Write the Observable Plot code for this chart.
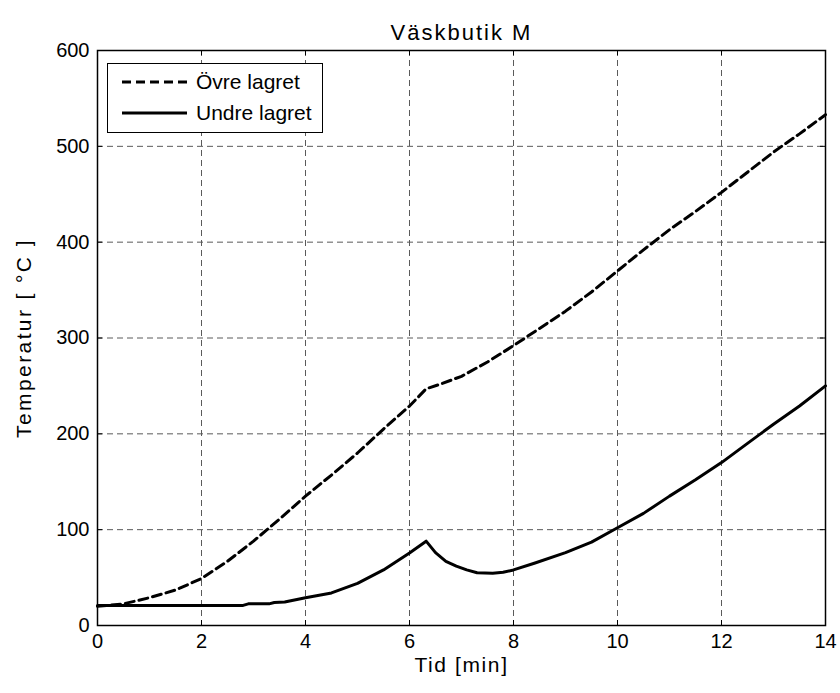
<!DOCTYPE html>
<html>
<head>
<meta charset="utf-8">
<script src="https://cdn.jsdelivr.net/npm/d3@7"></script>
<script src="https://cdn.jsdelivr.net/npm/@observablehq/plot@0.6"></script>
<style>
  html, body { margin: 0; padding: 0; background: white; }
</style>
</head>
<body>
<div id="chart"></div>
<script>
const titleText = "Väskbutik M";
const xLabel = "Tid [min]";
const yLabel = "Temperatur [ °C ]";
const seriesNames = ["Övre lagret", "Undre lagret"];

const xTicks = [0, 2, 4, 6, 8, 10, 12, 14];
const yTicks = [0, 100, 200, 300, 400, 500, 600];

const upperTime = [0, 0.5, 1, 1.5, 2, 2.5, 3, 3.5, 4, 4.5, 5, 5.5, 6, 6.32, 6.6, 7, 7.5, 8, 8.5, 9, 9.5, 10, 10.5, 11, 11.5, 12, 12.5, 13, 13.5, 14];
const upperTemp = [20, 22.6, 29, 37, 49, 67, 88, 111, 135, 157, 180, 205, 229, 247, 252, 260, 275, 292, 310, 328, 348, 370, 392, 413, 432, 452, 473, 494, 513, 533];

const lowerTime = [0, 1, 2, 2.8, 2.9, 3.3, 3.4, 3.6, 4, 4.5, 5, 5.5, 6, 6.32, 6.5, 6.7, 6.9, 7.1, 7.3, 7.6, 7.8, 8, 8.4, 9, 9.5, 10, 10.5, 11, 11.5, 12, 12.5, 13, 13.5, 14];
const lowerTemp = [21, 21, 21, 21, 22.6, 22.6, 24, 24.5, 29, 34, 44, 58, 75.6, 88, 76, 67, 62, 58, 55, 54.5, 55.5, 58, 65, 76, 87, 102, 117, 135, 152, 170, 190, 210, 229, 250];

const upperRows = upperTime.map((t, i) => ({t, v: upperTemp[i]}));
const lowerRows = lowerTime.map((t, i) => ({t, v: lowerTemp[i]}));

const W = 840, H = 693;
const mL = 97, mR = 15, mT = 50, mB = 68;
const fw = W - mL - mR, fh = H - mT - mB;
const font = "'Liberation Sans', Arial, Helvetica, sans-serif";

const chart = Plot.plot({
  width: W, height: H,
  marginLeft: mL, marginRight: mR, marginTop: mT, marginBottom: mB,
  x: {domain: [0, 14]},
  y: {domain: [0, 600]},
  style: {fontFamily: font, fontSize: "20px", color: "black", background: "white"},
  marks: [
    Plot.gridX(xTicks, {stroke: "#5a5a5a", strokeOpacity: 1, strokeWidth: 1, strokeDasharray: "6,4"}),
    Plot.gridY(yTicks, {stroke: "#5a5a5a", strokeOpacity: 1, strokeWidth: 1, strokeDasharray: "6,4"}),
    Plot.line(upperRows, {x: "t", y: "v", stroke: "black", strokeWidth: 3, strokeDasharray: "9,5"}),
    Plot.line(lowerRows, {x: "t", y: "v", stroke: "black", strokeWidth: 3}),
    Plot.frame({stroke: "black", strokeWidth: 1.5}),
    Plot.tickX(xTicks, {x: d => d, insetTop: fh - 5, stroke: "black"}),
    Plot.tickX(xTicks, {x: d => d, insetBottom: fh - 5, stroke: "black"}),
    Plot.tickY(yTicks, {y: d => d, insetRight: fw - 5, stroke: "black"}),
    Plot.tickY(yTicks, {y: d => d, insetLeft: fw - 5, stroke: "black"}),
    Plot.axisX(xTicks, {tickSize: 0, tickPadding: 8, label: null, fontSize: 20}),
    Plot.axisY(yTicks, {tickSize: 0, tickPadding: 8, label: null, fontSize: 20}),
    Plot.text([xLabel], {frameAnchor: "bottom", dy: 46, fontSize: 21, fill: "black", textAnchor: "middle"}),
    Plot.text([yLabel], {frameAnchor: "left", dx: -73, rotate: -90, fontSize: 21, fill: "black", textAnchor: "middle"}),
    Plot.text([titleText], {frameAnchor: "top", dy: -26, fontSize: 22, fill: "black", textAnchor: "middle"})
  ]
});

const svg = d3.select(chart);
// wider letter spacing as in the reference rendering
svg.selectAll("text").filter(function() { return this.textContent === xLabel; }).attr("letter-spacing", 1.6);
svg.selectAll("text").filter(function() { return this.textContent === yLabel; }).attr("letter-spacing", 2.4);
svg.selectAll("text").filter(function() { return this.textContent === titleText; }).attr("letter-spacing", 2);

// legend
const lg = svg.append("g").attr("font-family", font).attr("font-size", 21).attr("text-anchor", "start");
lg.append("rect").attr("x", 107.5).attr("y", 63.5).attr("width", 215).attr("height", 69)
  .attr("fill", "white").attr("stroke", "black").attr("stroke-width", 1);
const rowsY = [82, 113];
seriesNames.forEach((name, i) => {
  lg.append("line").attr("x1", 122).attr("x2", 187).attr("y1", rowsY[i]).attr("y2", rowsY[i])
    .attr("stroke", "black").attr("stroke-width", 3)
    .attr("stroke-dasharray", i === 0 ? "9,5" : null);
  lg.append("text").attr("x", 196).attr("y", rowsY[i]).attr("dy", "0.35em")
    .attr("fill", "black").text(name);
});

document.getElementById("chart").appendChild(chart);
</script>
</body>
</html>
